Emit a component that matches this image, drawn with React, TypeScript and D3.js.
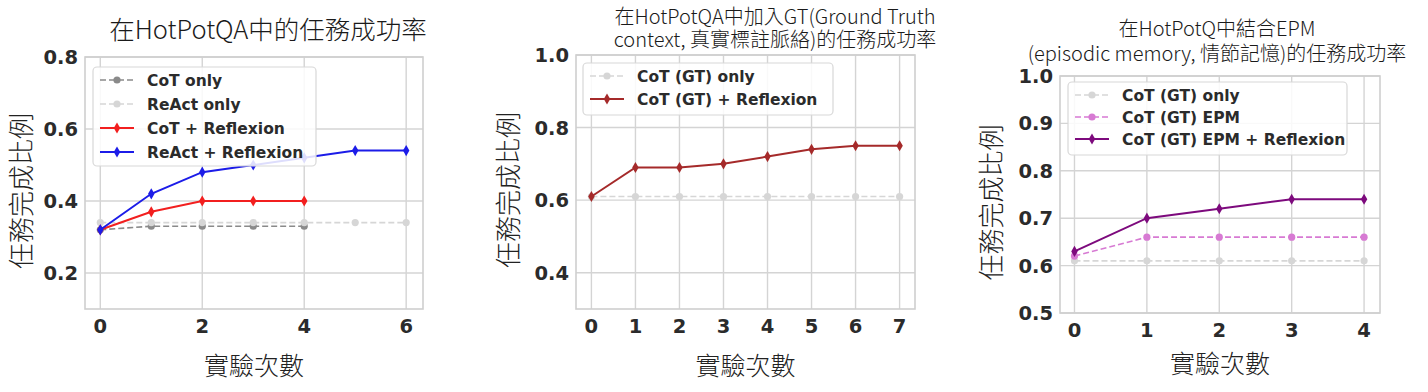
import { useEffect, useRef } from 'react'
import * as d3 from 'd3'

// panel 1: HotPotQA
const p1Iters = [0, 1, 2, 3, 4, 5, 6]
const cotOnly = [0.32, 0.33, 0.33, 0.33, 0.33]
const reactOnly = [0.34, 0.34, 0.34, 0.34, 0.34, 0.34, 0.34]
const cotReflexion = [0.32, 0.37, 0.40, 0.40, 0.40]
const reactReflexion = [0.32, 0.42, 0.48, 0.50, 0.52, 0.54, 0.54]
const p1XTicks = [0, 2, 4, 6]
const p1YTicks = [0.2, 0.4, 0.6, 0.8]

// panel 2: HotPotQA + GT
const p2Iters = [0, 1, 2, 3, 4, 5, 6, 7]
const gtOnly = [0.61, 0.61, 0.61, 0.61, 0.61, 0.61, 0.61, 0.61]
const gtReflexion = [0.61, 0.69, 0.69, 0.70, 0.72, 0.74, 0.75, 0.75]
const p2XTicks = [0, 1, 2, 3, 4, 5, 6, 7]
const p2YTicks = [0.4, 0.6, 0.8, 1.0]

// panel 3: HotPotQA + EPM
const p3Iters = [0, 1, 2, 3, 4]
const gtOnly3 = [0.61, 0.61, 0.61, 0.61, 0.61]
const gtEpm = [0.62, 0.66, 0.66, 0.66, 0.66]
const gtEpmReflexion = [0.63, 0.70, 0.72, 0.74, 0.74]
const p3XTicks = [0, 1, 2, 3, 4]
const p3YTicks = [0.5, 0.6, 0.7, 0.8, 0.9, 1.0]

const yLabel = '任務完成比例'
const xLabel = '實驗次數'

const tickFont = '"DejaVu Sans", sans-serif'
const cjkFont = '"Noto Sans CJK TC", "Noto Sans", sans-serif'

const panels = [
  {
    title: ['在HotPotQA中的任務成功率'], titleSize: 25.5, titleY: 39, titleGap: 0, titleX: 268,
    frame: { l: 85, r: 423, t: 57, b: 309 },
    xDomain: [-0.3, 6.33], yDomain: [0.1, 0.8],
    xTicks: p1XTicks, yTicks: p1YTicks, fmt: '.1f',
    yLabelX: 22, xLabelY: 375,
    legend: { x: 93, y: 67, w: 223, h: 99, row: 24 },
    series: [
      { name: 'CoT only', xs: p1Iters, ys: cotOnly, color: '#8a8a8a', dash: true, marker: 'circle' },
      { name: 'ReAct only', xs: p1Iters, ys: reactOnly, color: '#d6d6d6', dash: true, marker: 'circle' },
      { name: 'CoT + Reflexion', xs: p1Iters, ys: cotReflexion, color: '#f21f1f', dash: false, marker: 'diamond' },
      { name: 'ReAct + Reflexion', xs: p1Iters, ys: reactReflexion, color: '#1c1ce8', dash: false, marker: 'diamond' },
    ],
  },
  {
    title: ['在HotPotQA中加入GT(Ground Truth', 'context, 真實標註脈絡)的任務成功率'], titleSize: 20, titleY: 23.5, titleGap: 23.5, titleX: 775,
    frame: { l: 576, r: 915, t: 55, b: 309 },
    xDomain: [-0.35, 7.35], yDomain: [0.3, 1.0],
    xTicks: p2XTicks, yTicks: p2YTicks, fmt: '.1f',
    yLabelX: 509, xLabelY: 375,
    legend: { x: 583, y: 63, w: 250, h: 52, row: 23 },
    series: [
      { name: 'CoT (GT) only', xs: p2Iters, ys: gtOnly, color: '#d6d6d6', dash: true, marker: 'circle' },
      { name: 'CoT (GT) + Reflexion', xs: p2Iters, ys: gtReflexion, color: '#a52a2a', dash: false, marker: 'diamond' },
    ],
  },
  {
    title: ['在HotPotQ中結合EPM', '(episodic memory, 情節記憶)的任務成功率'], titleSize: 20, titleY: 36, titleGap: 25, titleX: 1217,
    frame: { l: 1060, r: 1380, t: 76, b: 313 },
    xDomain: [-0.2, 4.22], yDomain: [0.5, 1.0],
    xTicks: p3XTicks, yTicks: p3YTicks, fmt: '.1f',
    yLabelX: 992, xLabelY: 373,
    legend: { x: 1068, y: 82, w: 279, h: 73, row: 22 },
    series: [
      { name: 'CoT (GT) only', xs: p3Iters, ys: gtOnly3, color: '#d6d6d6', dash: true, marker: 'circle' },
      { name: 'CoT (GT) EPM', xs: p3Iters, ys: gtEpm, color: '#d77ad3', dash: true, marker: 'circle' },
      { name: 'CoT (GT) EPM + Reflexion', xs: p3Iters, ys: gtEpmReflexion, color: '#7d0a7d', dash: false, marker: 'diamond' },
    ],
  },
]

export default function App() {
  const ref = useRef<SVGSVGElement>(null)

  useEffect(() => {
    const svg = d3.select(ref.current)
    svg.selectAll('*').remove()

    svg.append('rect').attr('width', 1428).attr('height', 392).attr('fill', '#fff')

    const diamond = d3.symbol().type(d3.symbolDiamond).size(36)

    const drawMarker = (g, kind, x, y, color) => {
      if (kind === 'circle') {
        g.append('circle').attr('cx', x).attr('cy', y).attr('r', 3.6).attr('fill', color)
      } else {
        g.append('path').attr('d', diamond()).attr('transform', `translate(${x},${y})`).attr('fill', color)
      }
    }

    panels.forEach(p => {
      const f = p.frame
      const x = d3.scaleLinear().domain(p.xDomain).range([f.l, f.r])
      const y = d3.scaleLinear().domain(p.yDomain).range([f.b, f.t])
      const g = svg.append('g')

      // grid
      g.selectAll('.vg').data(p.xTicks).join('line')
        .attr('x1', d => x(d)).attr('x2', d => x(d))
        .attr('y1', f.t).attr('y2', f.b)
        .attr('stroke', '#d4d4d4').attr('stroke-width', 1.4)
      g.selectAll('.hg').data(p.yTicks).join('line')
        .attr('x1', f.l).attr('x2', f.r)
        .attr('y1', d => y(d)).attr('y2', d => y(d))
        .attr('stroke', '#d4d4d4').attr('stroke-width', 1.4)

      // frame
      g.append('rect')
        .attr('x', f.l).attr('y', f.t).attr('width', f.r - f.l).attr('height', f.b - f.t)
        .attr('fill', 'none').attr('stroke', '#cfcfcf').attr('stroke-width', 1.6)

      // tick labels
      const fmt = d3.format(p.fmt)
      g.selectAll('.yt').data(p.yTicks).join('text')
        .attr('x', f.l - 7).attr('y', d => y(d)).attr('dy', '0.36em')
        .attr('text-anchor', 'end')
        .style('font-family', tickFont).style('font-weight', 'bold').style('font-size', '19.5px')
        .attr('fill', '#2b2b2b')
        .text(d => fmt(d))
      g.selectAll('.xt').data(p.xTicks).join('text')
        .attr('x', d => x(d)).attr('y', f.b + 17).attr('dy', '0.36em')
        .attr('text-anchor', 'middle')
        .style('font-family', tickFont).style('font-weight', 'bold').style('font-size', '19.5px')
        .attr('fill', '#2b2b2b')
        .text(d => d)

      // series
      p.series.forEach(s => {
        const pts = s.ys.map((v, i) => [s.xs[i], v])
        const line = d3.line().x(d => x(d[0])).y(d => y(d[1]))
        g.append('path').datum(pts)
          .attr('fill', 'none').attr('stroke', s.color)
          .attr('stroke-width', s.dash ? 1.6 : 2)
          .attr('stroke-dasharray', s.dash ? '6,3' : null)
          .attr('d', line)
        pts.forEach(d => drawMarker(g, s.marker, x(d[0]), y(d[1]), s.color))
      })

      // legend
      const L = p.legend
      g.append('rect')
        .attr('x', L.x).attr('y', L.y).attr('width', L.w).attr('height', L.h).attr('rx', 4)
        .attr('fill', 'rgba(255,255,255,0.85)').attr('stroke', '#d8d8d8').attr('stroke-width', 1.2)
      p.series.forEach((s, i) => {
        const ly = L.y + 13 + i * L.row
        g.append('line')
          .attr('x1', L.x + 7).attr('x2', L.x + 41).attr('y1', ly).attr('y2', ly)
          .attr('stroke', s.color).attr('stroke-width', s.dash ? 1.6 : 2)
          .attr('stroke-dasharray', s.dash ? '6,3' : null)
        drawMarker(g, s.marker, L.x + 24, ly, s.color)
        g.append('text')
          .attr('x', L.x + 54).attr('y', ly).attr('dy', '0.36em')
          .style('font-family', tickFont).style('font-weight', 'bold').style('font-size', '15.5px')
          .attr('fill', '#2b2b2b')
          .text(s.name)
      })

      // title (one text element, one tspan per line)
      const title = g.append('text')
        .attr('text-anchor', 'middle')
        .style('font-family', cjkFont).style('font-weight', 300).style('font-size', `${p.titleSize}px`)
        .attr('fill', '#1a1a1a')
      p.title.forEach((t, i) => {
        title.append('tspan')
          .attr('x', p.titleX).attr('y', p.titleY + i * p.titleGap)
          .text(t)
      })

      // axis labels
      g.append('text')
        .attr('transform', `translate(${p.yLabelX},${(f.t + f.b) / 2 + 8}) rotate(-90)`)
        .attr('text-anchor', 'middle').attr('dy', '0.36em')
        .style('font-family', cjkFont).style('font-weight', 300).style('font-size', '26px')
        .attr('fill', '#222')
        .text(yLabel)
      g.append('text')
        .attr('x', (f.l + f.r) / 2).attr('y', p.xLabelY)
        .attr('text-anchor', 'middle')
        .style('font-family', cjkFont).style('font-weight', 300).style('font-size', '25px')
        .attr('fill', '#222')
        .text(xLabel)
    })
  }, [])

  return (
    <div style={{ position: 'absolute', left: 0, top: 0 }}>
      <svg ref={ref} width={1428} height={392} style={{ display: 'block' }} />
    </div>
  )
}
